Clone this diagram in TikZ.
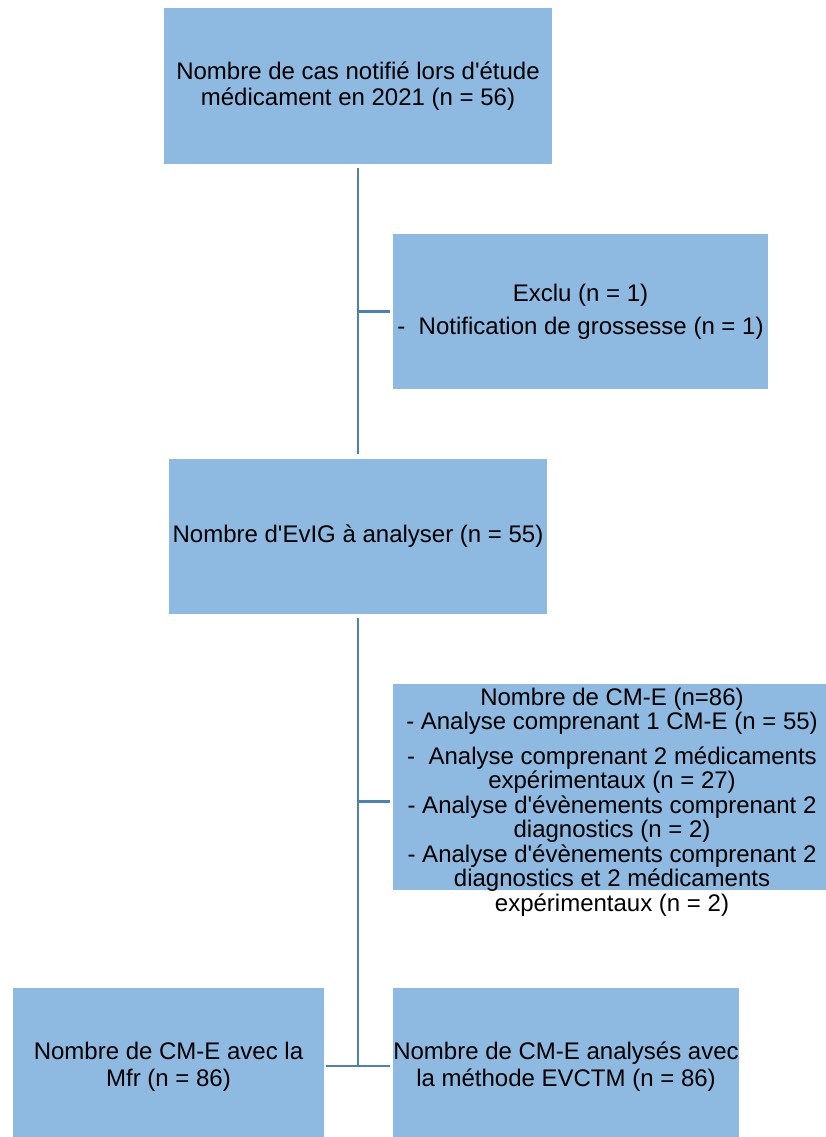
\documentclass[tikz,border=0pt]{standalone}
\usepackage{fontspec}
\setmainfont{Liberation Sans}[Ligatures=TeXOff]
\definecolor{boxfill}{RGB}{142,185,224}
\definecolor{linkblue}{RGB}{76,128,184}
\begin{document}
\begin{tikzpicture}[x=1pt,y=-1pt,
  box/.style={fill=boxfill, draw=none, inner sep=0pt, align=center,
    font=\fontsize{24}{26}\selectfont},
  txt/.style={inner sep=0pt, align=center, font=\fontsize{24}{24.5}\selectfont},
  link/.style={draw=linkblue, line width=2.7pt}]
\useasboundingbox (0,0) rectangle (826,1137);

% boxes
\node[box, minimum width=388, minimum height=156] (top) at (358,86)
  {Nombre de cas notifié lors d'étude\\médicament en 2021 (n = 56)};
\node[box, minimum width=375, minimum height=155] (excl) at (580.5,311.5)
  {Exclu (n = 1)\\[7pt]-\ \ Notification de grossesse (n = 1)};
\node[box, minimum width=378, minimum height=155] (mid) at (358,536)
  {Nombre d'EvIG à analyser (n = 55)};
\node[box, minimum width=433, minimum height=206] (cme) at (609.5,787) {};
\node[txt] (cmetext) at (612,802)
  {Nombre de CM-E (n=86)\\
   - Analyse comprenant 1 CM-E (n = 55)\\[10pt]
   -\ \ Analyse comprenant 2 médicaments\\
   expérimentaux (n = 27)\\
   - Analyse d'évènements comprenant 2\\
   diagnostics (n = 2)\\
   - Analyse d'évènements comprenant 2\\
   diagnostics et 2 médicaments\\
   expérimentaux (n = 2)};
\node[box, minimum width=311, minimum height=158] (bl) at (168.5,1067)
  {Nombre de CM-E avec la\\[1pt]Mfr (n = 86)};
\node[box, minimum width=346, minimum height=158] (br) at (566,1067)
  {Nombre de CM-E analysés avec\\[1pt]la méthode EVCTM (n = 86)};

% junction points on the main spine
\coordinate (j1) at (358,311.5);
\coordinate (j2) at (358,801.5);
\coordinate (j3) at (358,1066);

% connectors
\draw[link, shorten <=4pt, shorten >=4pt] (top.south) -- (mid.north);
\draw[link, shorten >=3pt] (j1) -- (excl.west);
\draw[link, shorten <=4pt] (mid.south) -- (j3);
\draw[link, shorten >=3pt] (j2) -- (j2 -| cme.west);
\draw[link, shorten <=2pt, shorten >=3pt] (j3 -| bl.east) -- (j3 -| br.west);
\end{tikzpicture}
\end{document}
